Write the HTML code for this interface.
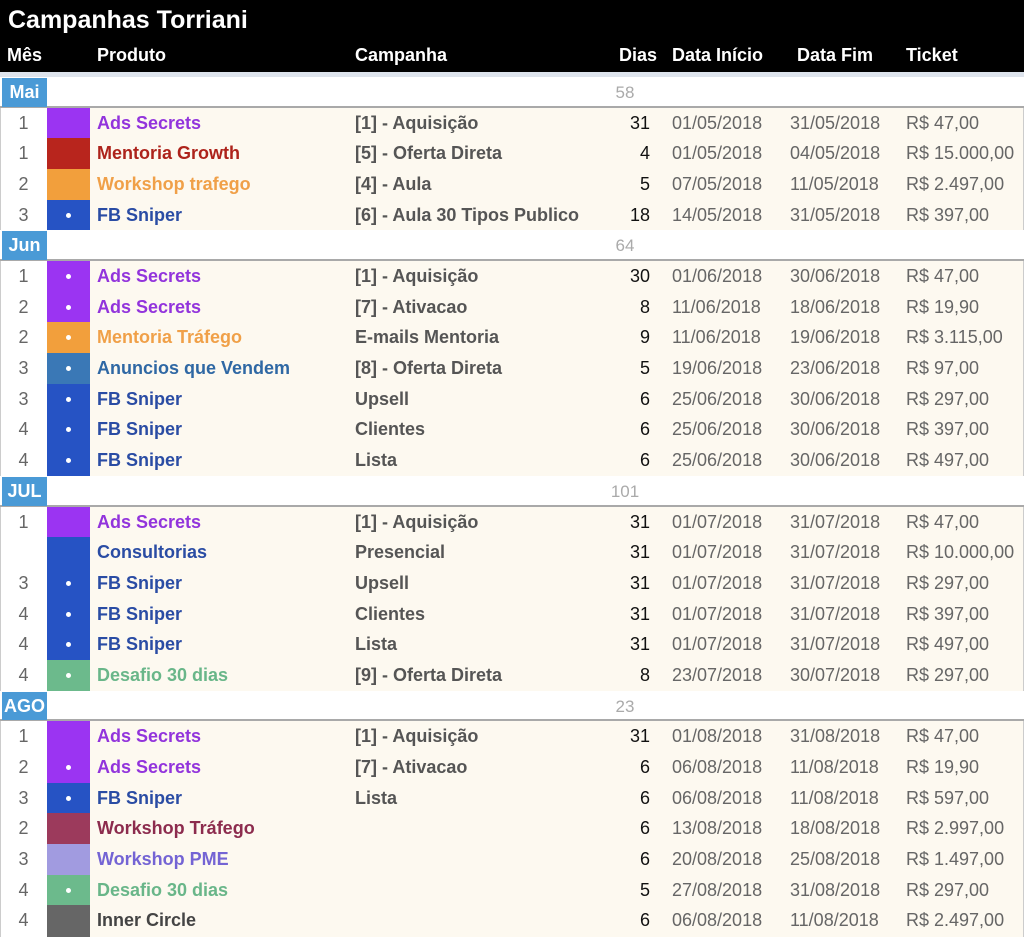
<!DOCTYPE html>
<html><head><meta charset="utf-8">
<style>
*{margin:0;padding:0;box-sizing:border-box}
body{width:1024px;height:936px;overflow:hidden;background:#fff;font-family:"Liberation Sans",Arial,sans-serif;position:relative}
.a{position:absolute;white-space:nowrap}
#hdr{left:0;top:0;width:1024px;height:72px;background:#000}
#title{left:8px;top:6px;font-size:25px;font-weight:bold;color:#fff}
.h{top:45px;font-size:18px;font-weight:bold;color:#fff}
#strip{left:0;top:72px;width:1024px;height:5px;background:#dde3ec}
.row{left:0;width:1024px;height:31px}
.t{font-size:18px;line-height:31px}
</style></head><body>
<div class="a" id="hdr"></div>
<div class="a" id="title">Campanhas Torriani</div>
<div class="a h" style="left:7px">Mês</div>
<div class="a h" style="left:97px">Produto</div>
<div class="a h" style="left:355px">Campanha</div>
<div class="a h" style="left:619px">Dias</div>
<div class="a h" style="left:672px">Data Início</div>
<div class="a h" style="left:797px">Data Fim</div>
<div class="a h" style="left:906px">Ticket</div>
<div class="a" id="strip"></div>
<div id="tbl"></div>
<script>
const months=["Mai","Jun","JUL","AGO"];
const monthTotals=["58","64","101","23"];
const groups=[
[["1","Ads Secrets","[1] - Aquisição","31","01/05/2018","31/05/2018","R$ 47,00","ads",0],
 ["1","Mentoria Growth","[5] - Oferta Direta","4","01/05/2018","04/05/2018","R$ 15.000,00","mg",0],
 ["2","Workshop trafego","[4] - Aula","5","07/05/2018","11/05/2018","R$ 2.497,00","wt",0],
 ["3","FB Sniper","[6] - Aula 30 Tipos Publico","18","14/05/2018","31/05/2018","R$ 397,00","fb",1]],
[["1","Ads Secrets","[1] - Aquisição","30","01/06/2018","30/06/2018","R$ 47,00","ads",1],
 ["2","Ads Secrets","[7] - Ativacao","8","11/06/2018","18/06/2018","R$ 19,90","ads",1],
 ["2","Mentoria Tráfego","E-mails Mentoria","9","11/06/2018","19/06/2018","R$ 3.115,00","wt",1],
 ["3","Anuncios que Vendem","[8] - Oferta Direta","5","19/06/2018","23/06/2018","R$ 97,00","av",1],
 ["3","FB Sniper","Upsell","6","25/06/2018","30/06/2018","R$ 297,00","fb",1],
 ["4","FB Sniper","Clientes","6","25/06/2018","30/06/2018","R$ 397,00","fb",1],
 ["4","FB Sniper","Lista","6","25/06/2018","30/06/2018","R$ 497,00","fb",1]],
[["1","Ads Secrets","[1] - Aquisição","31","01/07/2018","31/07/2018","R$ 47,00","ads",0],
 ["","Consultorias","Presencial","31","01/07/2018","31/07/2018","R$ 10.000,00","fb",0],
 ["3","FB Sniper","Upsell","31","01/07/2018","31/07/2018","R$ 297,00","fb",1],
 ["4","FB Sniper","Clientes","31","01/07/2018","31/07/2018","R$ 397,00","fb",1],
 ["4","FB Sniper","Lista","31","01/07/2018","31/07/2018","R$ 497,00","fb",1],
 ["4","Desafio 30 dias","[9] - Oferta Direta","8","23/07/2018","30/07/2018","R$ 297,00","ds",1]],
[["1","Ads Secrets","[1] - Aquisição","31","01/08/2018","31/08/2018","R$ 47,00","ads",0],
 ["2","Ads Secrets","[7] - Ativacao","6","06/08/2018","11/08/2018","R$ 19,90","ads",1],
 ["3","FB Sniper","Lista","6","06/08/2018","11/08/2018","R$ 597,00","fb",1],
 ["2","Workshop Tráfego","","6","13/08/2018","18/08/2018","R$ 2.997,00","wtr",0],
 ["3","Workshop PME","","6","20/08/2018","25/08/2018","R$ 1.497,00","pme",0],
 ["4","Desafio 30 dias","","5","27/08/2018","31/08/2018","R$ 297,00","ds",1],
 ["4","Inner Circle","","6","06/08/2018","11/08/2018","R$ 2.497,00","ic",0]]];
const sw={ads:"#9b34f2",mg:"#b8251d",wt:"#f29f3c",fb:"#2653c4",av:"#3a78b6",ds:"#6cba8c",wtr:"#9c3a5c",pme:"#a19be0",ic:"#666666"};
const tc={ads:"#9234dc",mg:"#ad231b",wt:"#f0a048",fb:"#2a4ca4",av:"#2f68a4",ds:"#69b689",wtr:"#8c2c4e",pme:"#7464d4",ic:"#444444"};
const RH=30.68;
const tbl=document.getElementById('tbl');
let r=0;
function mk(cls,style,txt){const d=document.createElement('div');d.className='a '+cls;d.style.cssText=style;if(txt!==undefined)d.textContent=txt;tbl.appendChild(d);return d;}
months.forEach((m,gi)=>{
  const y=77+r*RH;
  const mr=mk('row','top:'+y+'px;height:'+RH+'px;background:#fff;border-bottom:2px solid #a9a9a9');
  
  
  const ml=mk('t','left:2px;top:'+(y+1)+'px;width:45px;height:'+(RH-2)+'px;line-height:'+(RH-2)+'px;background:#4a9ad6;color:#fff;font-weight:bold;text-align:center',m);
  
  
  const mt=mk('t','left:600px;width:50px;top:'+y+'px;text-align:center;color:#aaa;font-size:17px',monthTotals[gi]);
  
  
  r++;
  groups[gi].forEach((d,i)=>{
    const y=77+r*RH;
    const rw=mk('row','top:'+y+'px;height:'+(RH+1)+'px;background:#fdf9f0;border-right:1px solid #ccc');
    
    
    const c0=mk('','left:0;top:'+y+'px;width:47px;height:'+(RH+1)+'px;background:#fff;border-left:1px solid #ccc');
    
    
    const n=mk('t','left:0;width:47px;top:'+y+'px;text-align:center;color:#666',d[0]);
    
    
    const s=mk('','left:47px;top:'+y+'px;width:43px;height:'+(RH+1)+'px;background:'+sw[d[7]]);
    
    
    if(d[8]){const dot=mk('','left:66px;top:'+(y+13)+'px;width:5px;height:5px;border-radius:50%;background:#fff');
      
      }
    const p=mk('t','left:97px;top:'+y+'px;font-weight:bold;color:'+tc[d[7]],d[1]);
    
    
    const c=mk('t','left:355px;top:'+y+'px;font-weight:bold;color:#555',d[2]);
    
    
    const dd=mk('t','left:600px;width:50px;top:'+y+'px;text-align:right;color:#111',d[3]);
    
    
    const di=mk('t','left:672px;top:'+y+'px;color:#666',d[4]);
    
    
    const df=mk('t','left:790px;top:'+y+'px;color:#666',d[5]);
    
    
    const tk=mk('t','left:906px;top:'+y+'px;color:#666',d[6]);
    
    
    r++;
  });
});
</script>
</body></html>
